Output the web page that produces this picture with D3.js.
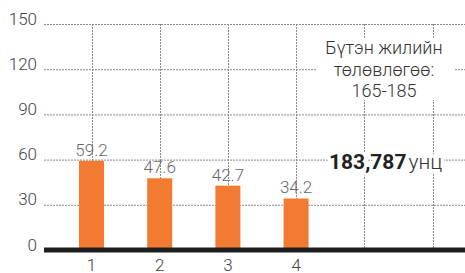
<!DOCTYPE html>
<html><head><meta charset="utf-8">
<script src="https://cdn.jsdelivr.net/npm/d3@7"></script>
<style>
html,body{margin:0;padding:0;background:#fff;}
svg{display:block;font-family:Roboto,"Noto Sans",sans-serif;}
</style></head>
<body><svg id="c" width="465" height="273"></svg>
<script>
const categories = ["1","2","3","4","5","6"];
const values = [59.2, 47.6, 42.7, 34.2, null, null];
const xTickLabels = ["1","2","3","4","",""];
const yTicks = [0,30,60,90,120,150];
const noteLines = ["Бүтэн жилийн","төлөвлөгөө:","165-185"];
const totalValue = "183,787";
const totalUnit = "унц";

const svg = d3.select("#c");
const W = 465, H = 273;
const left = 44;
const y = d3.scaleLinear().domain([0,150]).range([250,24]);
const x = d3.scaleBand().domain(categories).range([57.4, 466.6]).padding(0);
const cx = d => x(d) + x.bandwidth()/2;
const grid = "#8a8a8a";

svg.append("g").selectAll("line").data(yTicks.filter(t=>t>0)).join("line")
  .attr("x1", left).attr("x2", W)
  .attr("y1", d=>y(d)+0.5).attr("y2", d=>y(d)+0.5)
  .attr("stroke", grid).attr("stroke-width",1).attr("stroke-dasharray","2,1");

svg.append("g").selectAll("line").data(categories).join("line")
  .attr("x1", d=>Math.round(cx(d))+0.5).attr("x2", d=>Math.round(cx(d))+0.5)
  .attr("y1", y(150)).attr("y2", y(0))
  .attr("stroke", grid).attr("stroke-width",1).attr("stroke-dasharray","2,1");

svg.append("g").selectAll("text").data(yTicks).join("text")
  .attr("x", 37).attr("y", d=>y(d)+0.5)
  .attr("text-anchor","end")
  .attr("font-size",17).attr("font-weight",300).attr("fill","#444")
  .text(d=>d);

const bw = 25;
const data = categories.map((c,i)=>({c, v: values[i]})).filter(d=>d.v!=null);
svg.append("g").selectAll("rect").data(data).join("rect")
  .attr("x", d=>cx(d.c)-bw/2).attr("width", bw)
  .attr("y", d=>y(d.v)).attr("height", d=>y(0)-y(d.v))
  .attr("fill","#f37a31");

svg.append("g").selectAll("text").data(data).join("text")
  .attr("x", d=>cx(d.c)).attr("y", d=>y(d.v)-5)
  .attr("text-anchor","middle")
  .attr("font-size",17).attr("font-weight",300).attr("fill","#666")
  .text(d=>d.v.toFixed(1));

svg.append("line").attr("x1",left).attr("x2",W)
  .attr("y1",y(0)).attr("y2",y(0))
  .attr("stroke","#1e1e1e").attr("stroke-width",5);

svg.append("g").selectAll("text").data(categories).join("text")
  .attr("x", d=>cx(d)).attr("y", 271)
  .attr("text-anchor","middle")
  .attr("font-size",17).attr("font-weight",300).attr("fill","#444")
  .text((d,i)=>xTickLabels[i]);

svg.append("rect").attr("x",316).attr("y",38).attr("width",138).attr("height",62).attr("fill","#fff");
svg.append("g").selectAll("text").data(noteLines).join("text")
  .attr("x",384).attr("y",(d,i)=>54+i*21.7)
  .attr("text-anchor","middle")
  .attr("font-size",18).attr("font-weight",300).attr("fill","#333")
  .text(d=>d);

const tt = svg.append("text").attr("x",329).attr("y",168.5)
  .attr("stroke","#fff").attr("stroke-width",7).attr("paint-order","stroke").attr("stroke-linejoin","round");
tt.append("tspan").attr("font-size",21).attr("font-weight",700).attr("fill","#222").text(totalValue);
tt.append("tspan").attr("dx",2).attr("font-size",21).attr("font-weight",300).attr("fill","#333").text(totalUnit);
</script></body></html>
